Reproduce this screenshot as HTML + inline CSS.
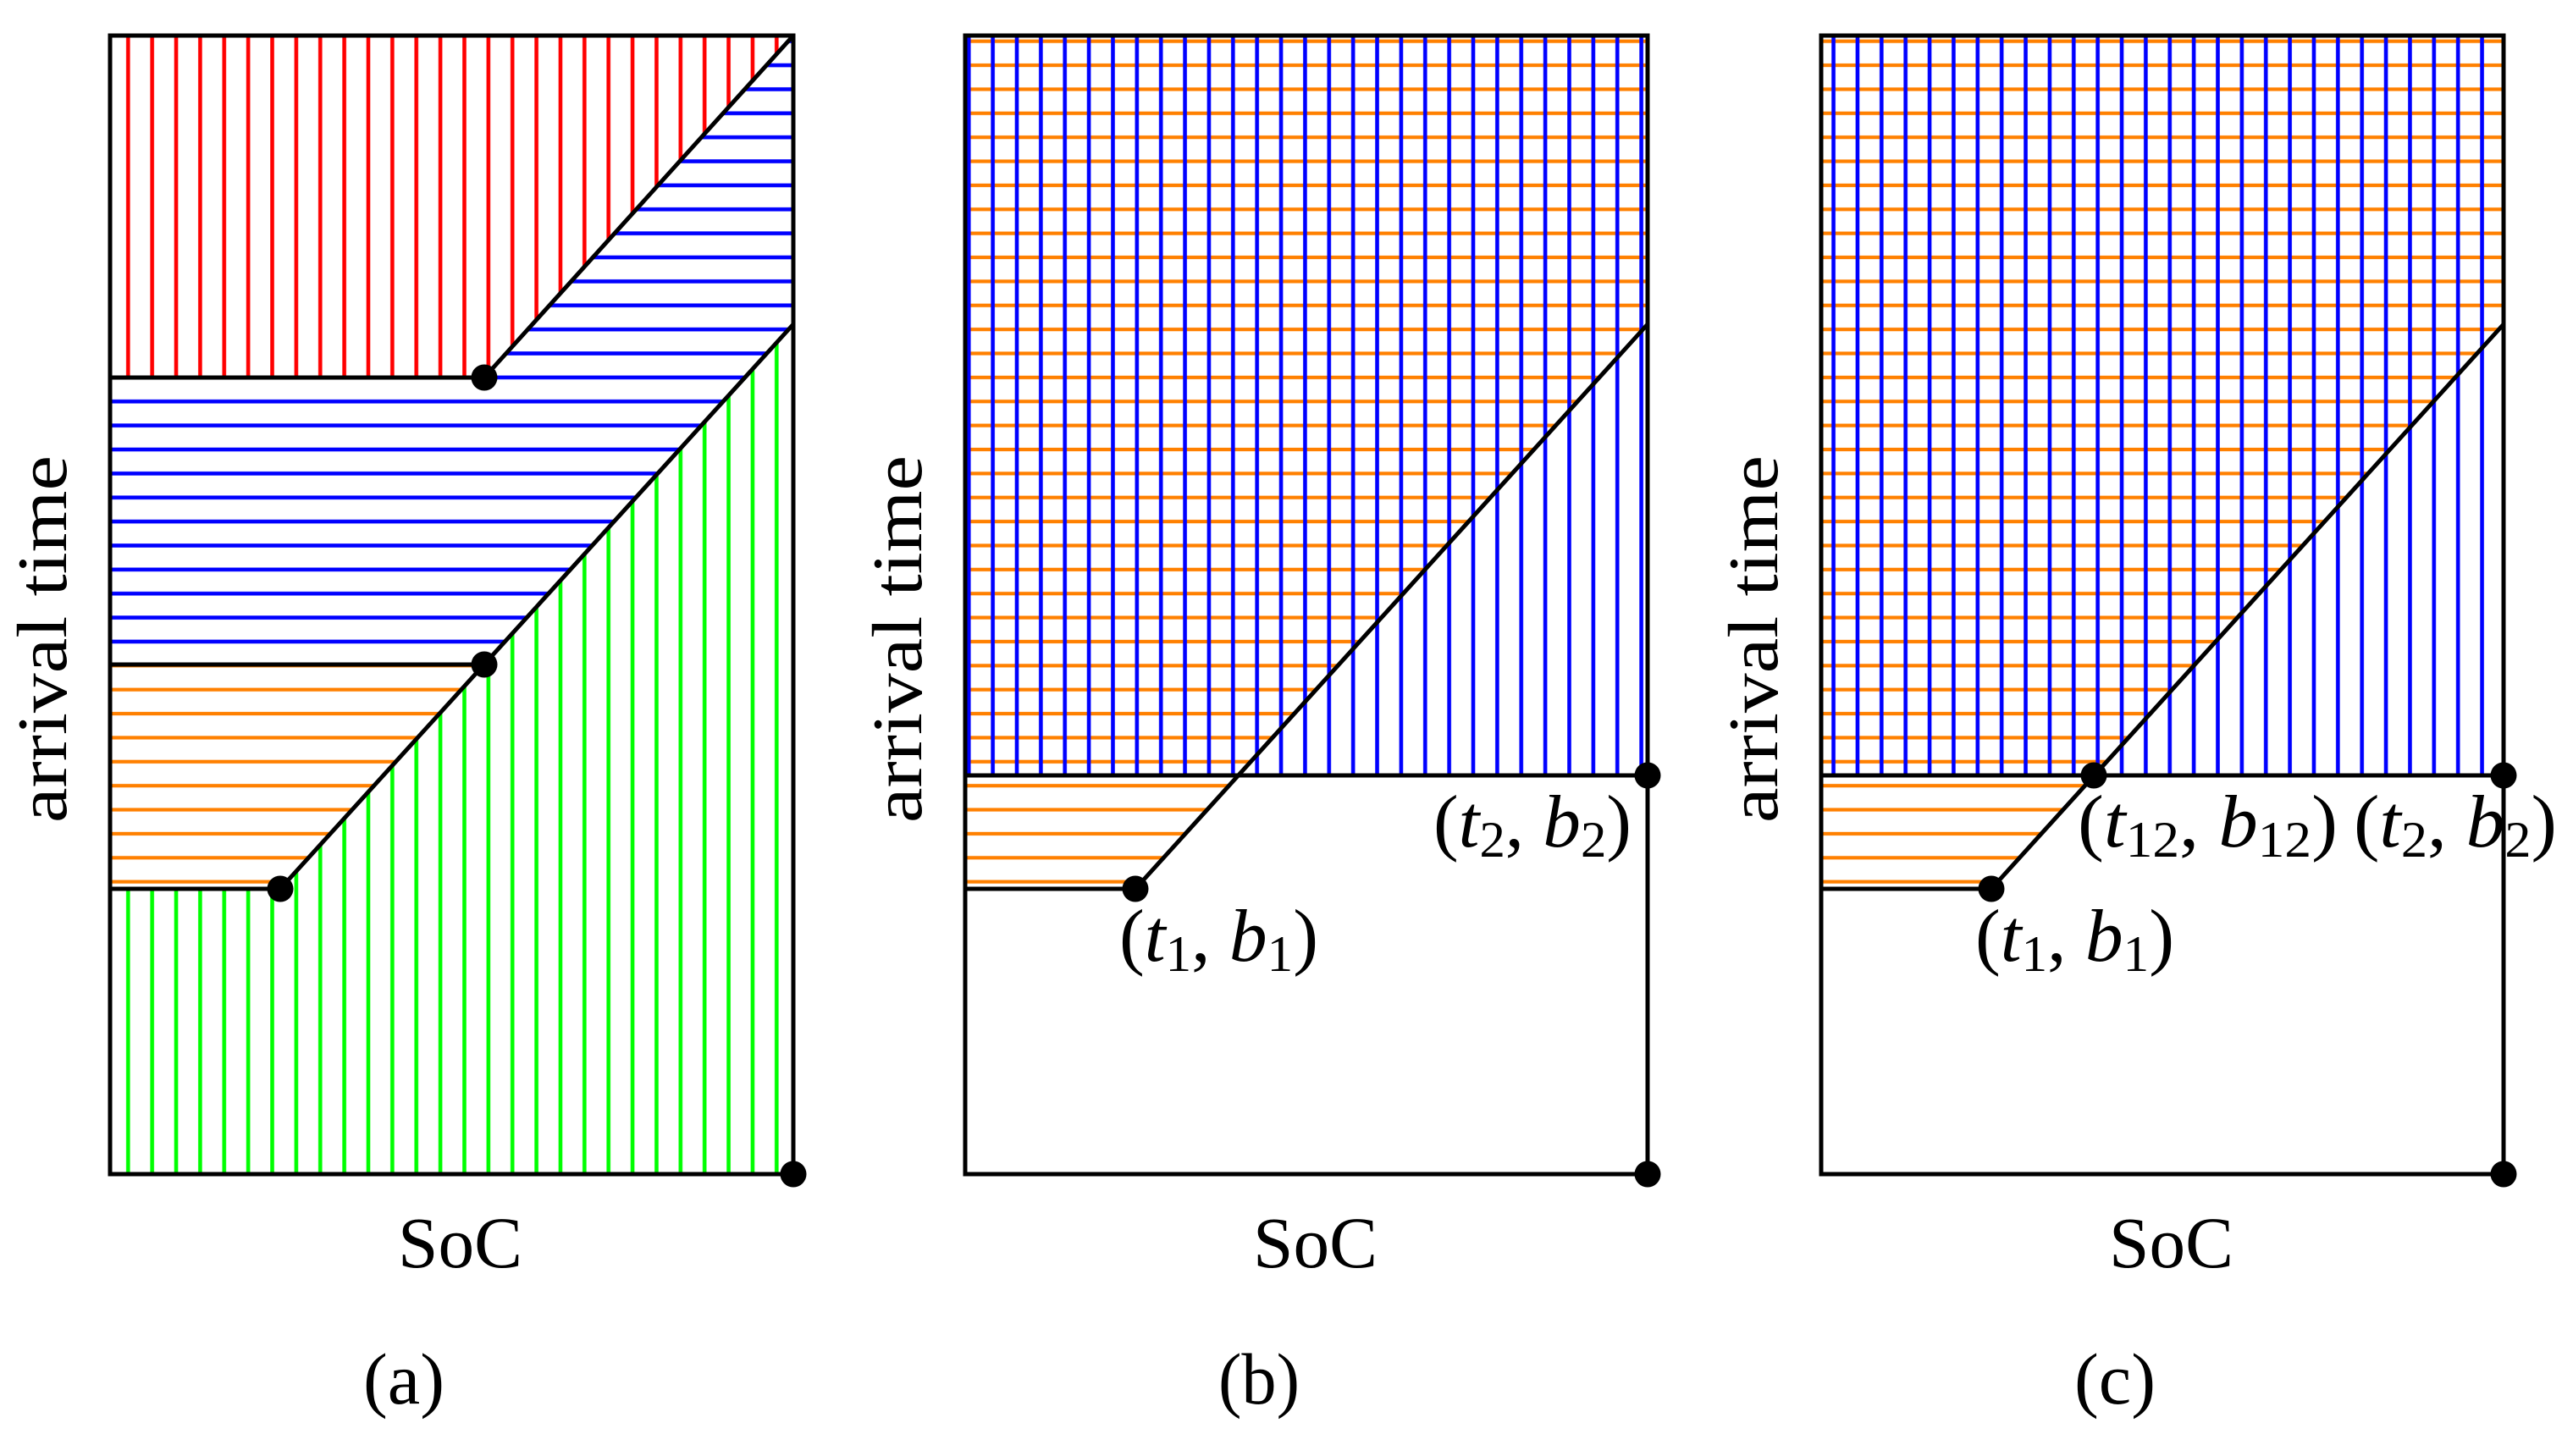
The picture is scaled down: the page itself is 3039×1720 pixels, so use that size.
<!DOCTYPE html>
<html><head><meta charset="utf-8"><style>html,body{margin:0;padding:0;background:#fff}svg{display:block}</style></head>
<body>
<svg xmlns="http://www.w3.org/2000/svg" width="3039" height="1720" viewBox="0 0 3039 1720">
<defs>
<pattern id="vr" patternUnits="userSpaceOnUse" x="9.45" y="0" width="28.37" height="100"><rect x="-2.3" y="0" width="4.6" height="100" fill="#ff0000"/><rect x="26.07" y="0" width="4.6" height="100" fill="#ff0000"/></pattern>
<pattern id="vg" patternUnits="userSpaceOnUse" x="9.45" y="0" width="28.37" height="100"><rect x="-2.3" y="0" width="4.6" height="100" fill="#00ff00"/><rect x="26.07" y="0" width="4.6" height="100" fill="#00ff00"/></pattern>
<pattern id="vb" patternUnits="userSpaceOnUse" x="9.45" y="0" width="28.37" height="100"><rect x="-2.3" y="0" width="4.6" height="100" fill="#0000ff"/><rect x="26.07" y="0" width="4.6" height="100" fill="#0000ff"/></pattern>
<pattern id="hb" patternUnits="userSpaceOnUse" x="0" y="20.33" width="100" height="28.37"><rect x="0" y="-2.3" width="100" height="4.6" fill="#0000ff"/><rect x="0" y="26.07" width="100" height="4.6" fill="#0000ff"/></pattern>
<pattern id="ho" patternUnits="userSpaceOnUse" x="0" y="20.33" width="100" height="28.37"><rect x="0" y="-2.1" width="100" height="4.2" fill="#ff8000"/><rect x="0" y="26.27" width="100" height="4.2" fill="#ff8000"/></pattern>
</defs>

<!-- Panel a -->
<polygon points="132,44 935,44 572,446 132,446" fill="url(#vr)"/>
<polygon points="132,446 572,446 935,44 935,383 572,785 132,785" fill="url(#hb)"/>
<polygon points="132,785 572,785 331,1050 132,1050" fill="url(#ho)"/>
<polygon points="132,1050 331,1050 572,785 935,383 935,1385 132,1385" fill="url(#vg)"/>
<g stroke="#000" stroke-width="5" fill="none" stroke-linecap="round">
<rect x="130" y="42" width="807" height="1345"/>
<line x1="130" y1="446" x2="572" y2="446"/>
<line x1="130" y1="785" x2="572" y2="785"/>
<line x1="130" y1="1050" x2="331" y2="1050"/>
<line x1="572" y1="446" x2="937" y2="42"/>
<line x1="331" y1="1050" x2="937" y2="383"/>
</g>
<g fill="#000">
<circle cx="572" cy="446" r="15.5"/><circle cx="572" cy="785" r="15.5"/><circle cx="331" cy="1050" r="15.5"/><circle cx="937" cy="1387" r="15.5"/>
</g>

<!-- Panel b -->
<polygon points="1142,44 1944,44 1944,383 1341,1050 1142,1050" fill="url(#ho)"/>
<rect x="1142" y="44" width="802" height="872" fill="url(#vb)"/>
<g stroke="#000" stroke-width="5" fill="none" stroke-linecap="round">
<rect x="1140" y="42" width="806" height="1345"/>
<line x1="1140" y1="916" x2="1946" y2="916"/>
<line x1="1140" y1="1050" x2="1341" y2="1050"/>
<line x1="1341" y1="1050" x2="1946" y2="383"/>
</g>
<g fill="#000">
<circle cx="1341" cy="1050" r="15.5"/><circle cx="1946" cy="916" r="15.5"/><circle cx="1946" cy="1387" r="15.5"/>
</g>

<!-- Panel c -->
<polygon points="2153,44 2955,44 2955,383 2352,1050 2153,1050" fill="url(#ho)"/>
<rect x="2153" y="44" width="802" height="872" fill="url(#vb)"/>
<g stroke="#000" stroke-width="5" fill="none" stroke-linecap="round">
<rect x="2151" y="42" width="806" height="1345"/>
<line x1="2151" y1="916" x2="2957" y2="916"/>
<line x1="2151" y1="1050" x2="2352" y2="1050"/>
<line x1="2352" y1="1050" x2="2957" y2="383"/>
</g>
<g fill="#000">
<circle cx="2352" cy="1050" r="15.5"/><circle cx="2473" cy="916" r="15.5"/><circle cx="2957" cy="916" r="15.5"/><circle cx="2957" cy="1387" r="15.5"/>
</g>

<!-- Text -->
<g font-family="'Liberation Serif', serif" fill="#000">
<text transform="translate(78,972) rotate(-90)" font-size="84" textLength="434" lengthAdjust="spacingAndGlyphs">arrival time</text>
<text transform="translate(1088,972) rotate(-90)" font-size="84" textLength="434" lengthAdjust="spacingAndGlyphs">arrival time</text>
<text transform="translate(2099,972) rotate(-90)" font-size="84" textLength="434" lengthAdjust="spacingAndGlyphs">arrival time</text>

<text x="470" y="1497" font-size="86" textLength="147" lengthAdjust="spacingAndGlyphs">SoC</text>
<text x="1480" y="1497" font-size="86" textLength="147" lengthAdjust="spacingAndGlyphs">SoC</text>
<text x="2491" y="1497" font-size="86" textLength="147" lengthAdjust="spacingAndGlyphs">SoC</text>

<text x="429" y="1658" font-size="86" textLength="96" lengthAdjust="spacingAndGlyphs">(a)</text>
<text x="1439" y="1658" font-size="86" textLength="96" lengthAdjust="spacingAndGlyphs">(b)</text>
<text x="2450" y="1658" font-size="86" textLength="96" lengthAdjust="spacingAndGlyphs">(c)</text>

<text x="1322" y="1135" font-size="88" textLength="235" lengthAdjust="spacingAndGlyphs">(<tspan font-style="italic">t</tspan><tspan font-size="60" dy="12">1</tspan><tspan dy="-12">, </tspan><tspan font-style="italic">b</tspan><tspan font-size="60" dy="12">1</tspan><tspan dy="-12">)</tspan></text>
<text x="1693" y="1000" font-size="88" textLength="234" lengthAdjust="spacingAndGlyphs">(<tspan font-style="italic">t</tspan><tspan font-size="60" dy="12">2</tspan><tspan dy="-12">, </tspan><tspan font-style="italic">b</tspan><tspan font-size="60" dy="12">2</tspan><tspan dy="-12">)</tspan></text>
<text x="2333" y="1135" font-size="88" textLength="235" lengthAdjust="spacingAndGlyphs">(<tspan font-style="italic">t</tspan><tspan font-size="60" dy="12">1</tspan><tspan dy="-12">, </tspan><tspan font-style="italic">b</tspan><tspan font-size="60" dy="12">1</tspan><tspan dy="-12">)</tspan></text>
<text x="2454" y="1000" font-size="88" textLength="307" lengthAdjust="spacingAndGlyphs">(<tspan font-style="italic">t</tspan><tspan font-size="60" dy="12">12</tspan><tspan dy="-12">, </tspan><tspan font-style="italic">b</tspan><tspan font-size="60" dy="12">12</tspan><tspan dy="-12">)</tspan></text>
<text x="2780" y="1000" font-size="88" textLength="240" lengthAdjust="spacingAndGlyphs">(<tspan font-style="italic">t</tspan><tspan font-size="60" dy="12">2</tspan><tspan dy="-12">, </tspan><tspan font-style="italic">b</tspan><tspan font-size="60" dy="12">2</tspan><tspan dy="-12">)</tspan></text>
</g>
</svg>
</body></html>
